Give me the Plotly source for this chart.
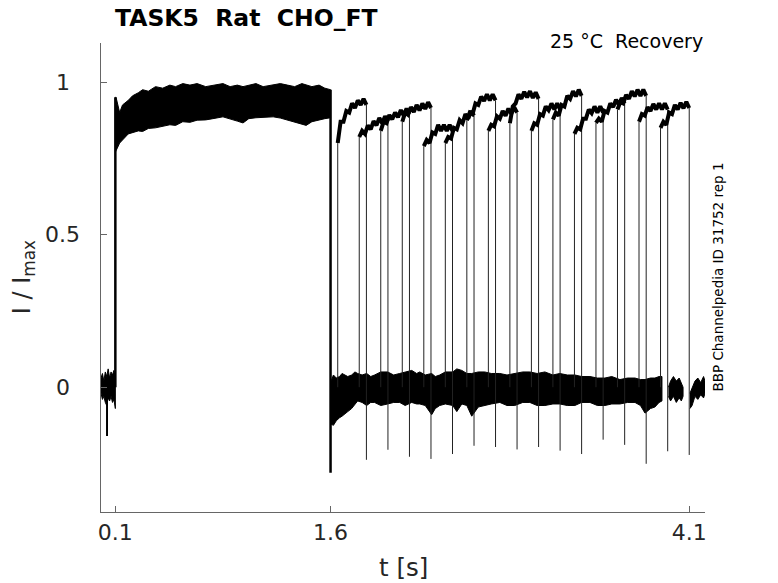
import plotly.graph_objects as go

# baseline before the conditioning pulse (0 - 0.1 s)
base0_t = [0.0, 0.01, 0.02, 0.03, 0.04, 0.05, 0.06, 0.07, 0.08, 0.09, 0.1]
base0_hi = [0.03, 0.045, 0.02, 0.05, 0.035, 0.06, 0.03, 0.05, 0.04, 0.055, 0.03]
base0_lo = [-0.02, -0.04, -0.03, -0.05, -0.06, -0.035, -0.045, -0.03, -0.05, -0.04, -0.07]
spike0_t = 0.042
spike0_v = -0.16

# conditioning pulse band (0.1 - 1.6 s), upper / lower envelope
pre_t = [0.1, 0.105, 0.13, 0.15, 0.19, 0.22, 0.26, 0.29, 0.33, 0.38, 0.43, 0.48,
         0.52, 0.57, 0.62, 0.67, 0.73, 0.78, 0.85, 0.9, 0.95, 0.99, 1.03, 1.08,
         1.13, 1.2, 1.25, 1.3, 1.35, 1.4, 1.43, 1.47, 1.52, 1.56, 1.6]
pre_hi = [0.95, 0.95, 0.90, 0.925, 0.94, 0.955, 0.965, 0.975, 0.97, 0.985, 0.98, 0.99,
          0.985, 0.995, 0.99, 0.995, 0.985, 0.99, 0.995, 0.985, 0.99, 0.985, 0.99, 0.995,
          0.985, 0.99, 0.995, 0.99, 0.985, 0.995, 0.99, 0.985, 0.99, 0.98, 0.975]
pre_lo = [0.77, 0.775, 0.80, 0.81, 0.83, 0.835, 0.84, 0.838, 0.848, 0.85, 0.855, 0.86,
          0.858, 0.87, 0.868, 0.875, 0.876, 0.88, 0.886, 0.878, 0.872, 0.866, 0.88, 0.883,
          0.885, 0.886, 0.882, 0.876, 0.87, 0.862, 0.858, 0.87, 0.876, 0.88, 0.883]
pre_end_drop = -0.28

# baseline during recovery intervals (1.6 - 3.91 s)
base_t = [1.6, 1.62, 1.64, 1.663, 1.68, 1.698, 1.72, 1.747, 1.77, 1.789, 1.82, 1.852,
          1.88, 1.907, 1.95, 1.998, 2.04, 2.082, 2.12, 2.166, 2.2, 2.222, 2.26, 2.305,
          2.33, 2.361, 2.4, 2.452, 2.48, 2.515, 2.55, 2.584, 2.63, 2.675, 2.72, 2.78,
          2.83, 2.884, 2.94, 2.989, 3.04, 3.094, 3.15, 3.198, 3.25, 3.303, 3.35, 3.408,
          3.46, 3.512, 3.56, 3.617, 3.67, 3.722, 3.76, 3.792, 3.83, 3.861, 3.89, 3.91]
base_hi = [0.015, 0.04, 0.03, 0.035, 0.045, 0.04, 0.035, 0.04, 0.05, 0.045, 0.04, 0.045,
           0.035, 0.04, 0.05, 0.05, 0.04, 0.045, 0.05, 0.055, 0.045, 0.05, 0.04, 0.045,
           0.035, 0.04, 0.05, 0.05, 0.06, 0.055, 0.045, 0.045, 0.05, 0.05, 0.045, 0.045,
           0.04, 0.045, 0.05, 0.05, 0.045, 0.05, 0.04, 0.045, 0.04, 0.04, 0.035, 0.035,
           0.03, 0.03, 0.035, 0.025, 0.03, 0.03, 0.025, 0.025, 0.03, 0.03, 0.035, 0.035]
base_lo = [-0.12, -0.125, -0.11, -0.1, -0.095, -0.09, -0.08, -0.07, -0.055, -0.045, -0.05, -0.06,
           -0.05, -0.05, -0.06, -0.055, -0.05, -0.05, -0.06, -0.05, -0.055, -0.055, -0.06, -0.09,
           -0.07, -0.06, -0.055, -0.06, -0.08, -0.055, -0.06, -0.095, -0.065, -0.06, -0.055, -0.05,
           -0.06, -0.06, -0.05, -0.05, -0.06, -0.06, -0.055, -0.055, -0.06, -0.06, -0.05, -0.05,
           -0.06, -0.06, -0.055, -0.055, -0.05, -0.05, -0.06, -0.085, -0.07, -0.065, -0.05, -0.045]

# short baseline pieces after the last two test pulses
frag1_t = [3.955, 3.97, 3.99, 4.01, 4.03, 4.045, 4.057]
frag1_hi = [0.0, 0.02, 0.035, 0.02, 0.03, 0.01, 0.0]
frag1_lo = [-0.03, -0.045, -0.03, -0.05, -0.035, -0.045, -0.03]
frag2_t = [4.105, 4.12, 4.14, 4.16, 4.18, 4.2, 4.21]
frag2_hi = [-0.02, 0.0, 0.02, 0.03, 0.015, 0.035, 0.02]
frag2_lo = [-0.07, -0.06, -0.03, -0.04, -0.025, -0.035, -0.02]

# test pulses: onset of each sweep, sample times within the pulse, current values
pulse_on = [1.65, 1.80, 1.95, 2.10, 2.25, 2.40, 2.55, 2.70,
            2.85, 3.00, 3.15, 3.30, 3.45, 3.60, 3.75, 3.90]
pulse_dt = [0.0, 0.02, 0.04, 0.06, 0.08, 0.10, 0.12, 0.14, 0.16, 0.18, 0.20]
pulse_v = [
    [0.80, 0.87, 0.87, 0.905, 0.90, 0.93, 0.915, 0.94, 0.925, 0.945, 0.925],
    [0.82, 0.84, 0.83, 0.858, 0.845, 0.872, 0.858, 0.882, 0.865, 0.888, 0.87],
    [0.84, 0.87, 0.865, 0.892, 0.878, 0.90, 0.885, 0.908, 0.89, 0.913, 0.895],
    [0.87, 0.90, 0.893, 0.918, 0.902, 0.925, 0.907, 0.93, 0.912, 0.934, 0.915],
    [0.79, 0.81, 0.80, 0.835, 0.83, 0.86, 0.84, 0.86, 0.84, 0.86, 0.84],
    [0.80, 0.82, 0.815, 0.85, 0.845, 0.875, 0.865, 0.895, 0.88, 0.905, 0.89],
    [0.875, 0.90, 0.895, 0.93, 0.925, 0.952, 0.938, 0.96, 0.94, 0.96, 0.94],
    [0.84, 0.86, 0.855, 0.888, 0.88, 0.905, 0.89, 0.913, 0.896, 0.918, 0.90],
    [0.865, 0.92, 0.93, 0.96, 0.945, 0.968, 0.95, 0.97, 0.948, 0.966, 0.945],
    [0.84, 0.865, 0.86, 0.895, 0.89, 0.92, 0.908, 0.93, 0.91, 0.93, 0.91],
    [0.877, 0.90, 0.89, 0.925, 0.92, 0.955, 0.945, 0.97, 0.953, 0.975, 0.955],
    [0.83, 0.85, 0.845, 0.88, 0.88, 0.91, 0.898, 0.92, 0.90, 0.92, 0.90],
    [0.866, 0.88, 0.87, 0.905, 0.90, 0.93, 0.918, 0.942, 0.926, 0.948, 0.93],
    [0.91, 0.935, 0.93, 0.958, 0.945, 0.97, 0.953, 0.975, 0.955, 0.975, 0.955],
    [0.87, 0.895, 0.89, 0.918, 0.905, 0.928, 0.91, 0.93, 0.91, 0.93, 0.91],
    [0.85, 0.87, 0.86, 0.90, 0.895, 0.925, 0.91, 0.932, 0.914, 0.935, 0.915],
]
# negative transient at the end of each test pulse
tail_min = [-0.238, -0.205, -0.228, -0.235, -0.219, -0.192, -0.196, -0.204,
            -0.196, -0.208, -0.219, -0.172, -0.189, -0.251, -0.21, -0.222]

x_ticks = [0.1, 1.6, 4.1]
x_ticktext = ["0.1", "1.6", "4.1"]
y_ticks = [0, 0.5, 1]
y_ticktext = ["0", "0.5", "1"]

FONT = "DejaVu Sans"
INK = "#262626"
AXC = "#666666"


def band(t, hi, lo):
    return go.Scatter(x=list(t) + list(t)[::-1], y=list(hi) + list(lo)[::-1],
                      fill="toself", fillcolor="black", mode="lines",
                      line=dict(color="black", width=1), hoverinfo="skip",
                      showlegend=False)


fig = go.Figure()
fig.add_trace(band(base0_t, base0_hi, base0_lo))
fig.add_trace(band(pre_t, pre_hi, pre_lo))
fig.add_trace(band(base_t, base_hi, base_lo))
fig.add_trace(band(frag1_t, frag1_hi, frag1_lo))
fig.add_trace(band(frag2_t, frag2_hi, frag2_lo))

# step edges of the conditioning pulse
fig.add_trace(go.Scatter(x=[pre_t[0], pre_t[0], None, pre_t[-1], pre_t[-1]],
                         y=[0.0, pre_hi[0], None, pre_hi[-1], pre_end_drop],
                         mode="lines", line=dict(color="black", width=2.5),
                         hoverinfo="skip", showlegend=False))
fig.add_trace(go.Scatter(x=[spike0_t, spike0_t], y=[0.0, spike0_v], mode="lines",
                         line=dict(color="black", width=2), hoverinfo="skip",
                         showlegend=False))

# on / off edges of the test pulses
ex, ey = [], []
for on, v, m in zip(pulse_on, pulse_v, tail_min):
    off = on + pulse_dt[-1]
    ex += [on, on, None, off, off, None]
    ey += [0.0, v[0], None, v[-1], m, None]
fig.add_trace(go.Scatter(x=ex, y=ey, mode="lines", line=dict(color="#222222", width=1),
                         hoverinfo="skip", showlegend=False))

# test pulse traces
for on, v in zip(pulse_on, pulse_v):
    fig.add_trace(go.Scatter(x=[on + d for d in pulse_dt], y=v, mode="lines",
                             line=dict(color="black", width=4),
                             hoverinfo="skip", showlegend=False))

annotations = []
for yv, txt in zip(y_ticks, y_ticktext):
    annotations.append(dict(x=-0.063, xref="paper", y=yv, yref="y", text=txt,
                            showarrow=False, xanchor="center", yanchor="middle",
                            font=dict(family=FONT, size=22, color=INK)))
annotations += [
    dict(x=-0.128, xref="paper", y=0.5, yref="paper", text="I / I<sub>max</sub>",
         textangle=-90, showarrow=False, xanchor="center", yanchor="middle",
         font=dict(family=FONT, size=24, color=INK)),
    dict(x=0.5, xref="paper", y=-0.084, yref="paper", text="t [s]",
         showarrow=False, xanchor="center", yanchor="top",
         font=dict(family=FONT, size=24.5, color=INK)),
    dict(x=0.02, xref="paper", y=1.053, yref="paper",
         text="<b>TASK5\u00a0\u00a0Rat\u00a0\u00a0CHO_FT</b>", showarrow=False,
         xanchor="left", yanchor="middle", font=dict(family=FONT, size=23.5, color="black")),
    dict(x=1.0, xref="paper", y=1.004, yref="paper",
         text="25 \u00b0C\u00a0\u00a0Recovery", showarrow=False,
         xanchor="right", yanchor="middle", font=dict(family=FONT, size=19, color="black")),
    dict(x=1.02, xref="paper", y=0.5, yref="paper",
         text="BBP Channelpedia ID 31752 rep 1", textangle=-90, showarrow=False,
         xanchor="center", yanchor="middle", font=dict(family=FONT, size=13.5, color="black")),
]

fig.update_layout(
    width=778, height=583,
    margin=dict(l=101, r=73, t=43, b=71),
    paper_bgcolor="white", plot_bgcolor="white",
    annotations=annotations,
    xaxis=dict(range=[0, 4.21], tickvals=x_ticks, ticktext=x_ticktext,
               ticks="inside", ticklen=6, tickcolor=AXC, showline=True,
               linecolor=AXC, linewidth=1, showgrid=False, zeroline=False,
               tickfont=dict(family=FONT, size=22, color=INK), ticklabelstandoff=1),
    yaxis=dict(range=[-0.409, 1.128], tickvals=y_ticks, showticklabels=False,
               ticks="inside", ticklen=6, tickcolor=AXC, showline=True,
               linecolor=AXC, linewidth=1, showgrid=False, zeroline=False),
)

fig.write_html("out.html", config={"displayModeBar": False},
               post_script="document.body.style.margin='0';")
